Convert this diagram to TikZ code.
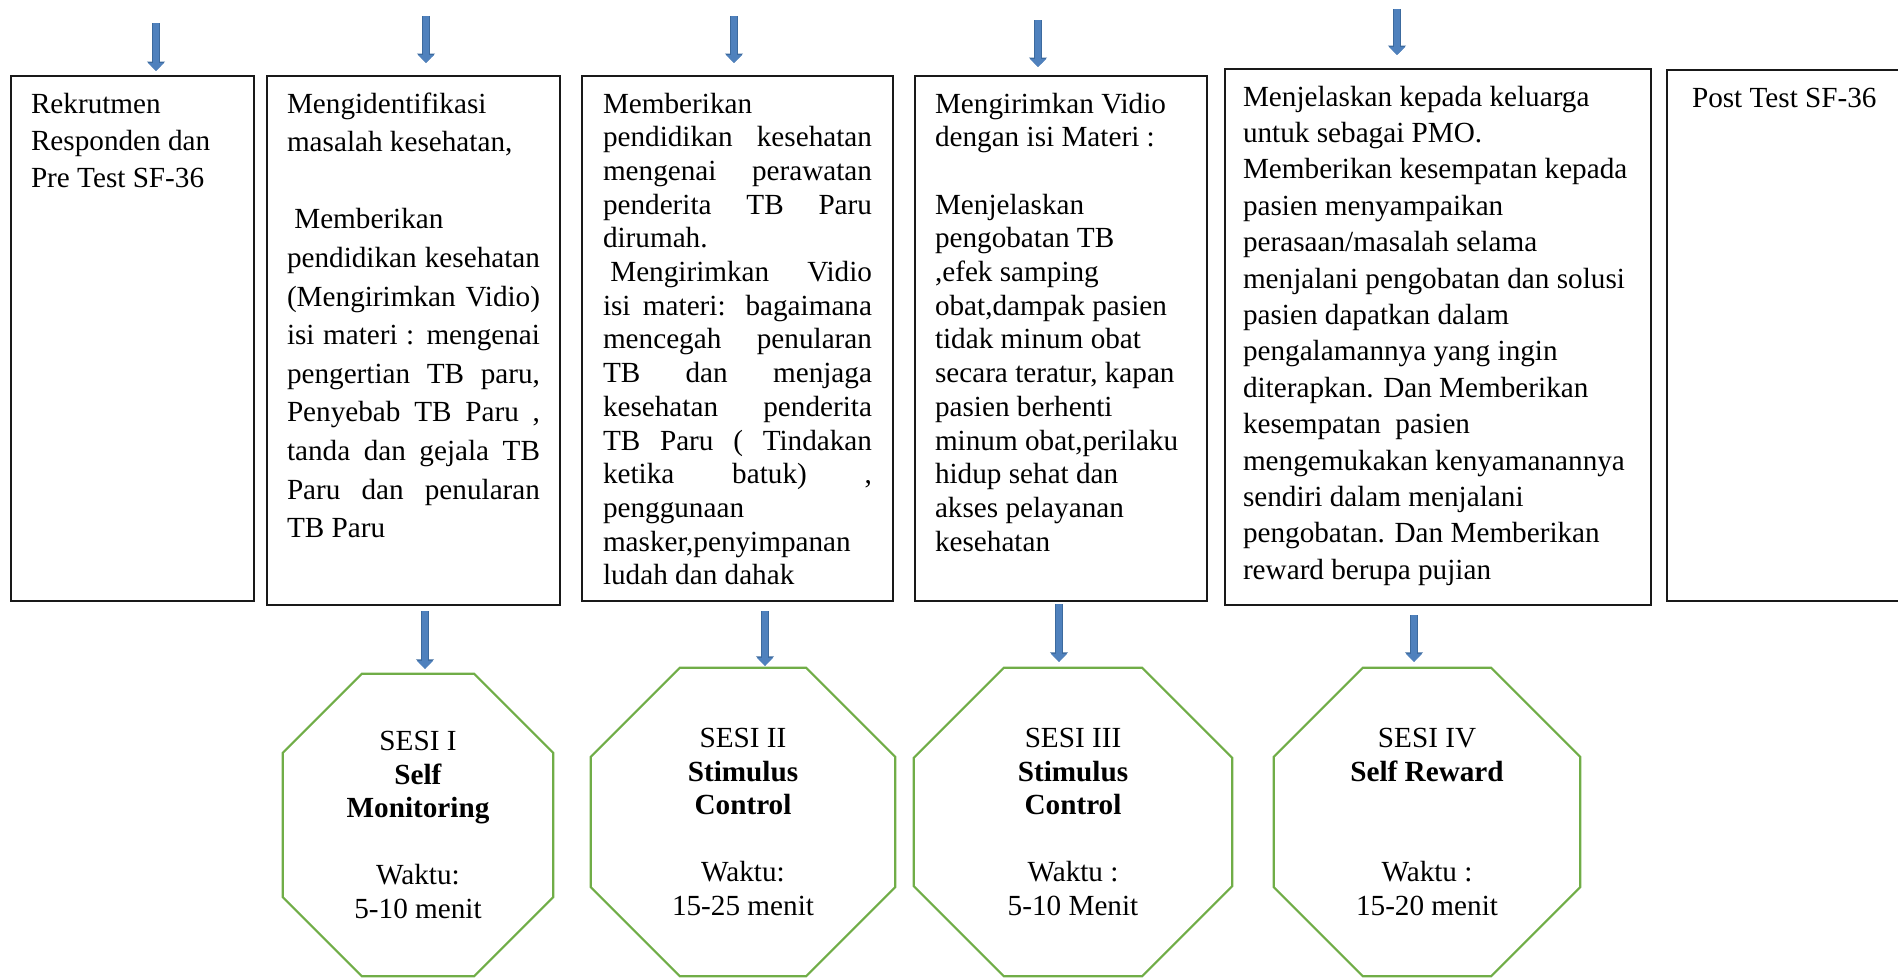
\documentclass[tikz,border=0pt]{standalone}
\usepackage{fontspec}
\setmainfont{Liberation Serif}
\usetikzlibrary{arrows.meta,positioning}
\definecolor{arrowblue}{HTML}{4F81BD}
\definecolor{arrowedge}{HTML}{3C6A9E}
\definecolor{sesigreen}{HTML}{70AD47}
\newcommand{\jline}[1]{\makebox[\linewidth][s]{\spaceskip=0pt\xspaceskip=0pt #1}}

\begin{document}
\begin{tikzpicture}[
    x=1pt, y=-1pt,
    stepbox/.style={
      draw=black!90,
      line width=1.2pt,
      anchor=north west,
      align=left,
      inner xsep=20pt,
      inner ysep=0pt,
      outer sep=0pt,
      text height=37pt,
      font=\fontsize{29.2}{33.7}\selectfont,
      execute at begin node={\spaceskip=0pt\xspaceskip=0pt\relax}
    },
    sesibox/.style={
      align=center,
      inner sep=0pt,
      font=\fontsize{29.2}{33.5}\selectfont,
      execute at begin node={\spaceskip=0pt\xspaceskip=0pt\relax}
    },
    sesiline/.style={draw=sesigreen, line width=2.2pt},
    blockarrow/.style={
      draw=arrowblue, line width=6.5pt,
      -{Triangle[length=8pt, width=15.5pt]},
      preaction={draw=arrowedge, line width=8pt, -{Triangle[length=9.5pt, width=17.5pt]}}
    }
  ]
  \useasboundingbox (0,0) rectangle (1898,978);

  % langkah
  \node[stepbox, text width=203pt, minimum width=243pt, text depth=488pt,
    font=\fontsize{29.2}{37}\selectfont] (rekrut) at (11,76)
    {Rekrutmen\\Responden dan\\Pre Test SF-36};
  \node[stepbox, text width=253pt, minimum width=293pt, text depth=492pt,
    font=\fontsize{29.2}{38.6}\selectfont] (identifikasi) at (267,76)
    {Mengidentifikasi\\
     masalah kesehatan,\\
     \mbox{}\\
     \hspace*{.25em}Memberikan\\
     \jline{pendidikan kesehatan}\\
     \jline{(Mengirimkan Vidio)}\\
     \jline{isi materi : mengenai}\\
     \jline{pengertian TB paru,}\\
     \jline{Penyebab TB Paru ,}\\
     \jline{tanda dan gejala TB}\\
     \jline{Paru dan penularan}\\
     TB Paru};
  \node[stepbox, text width=269pt, minimum width=311pt, text depth=488pt] (edukasi) at (582,76)
    {Memberikan\\
     \jline{pendidikan kesehatan}\\
     \jline{mengenai perawatan}\\
     \jline{penderita TB Paru}\\
     dirumah.\\
     \jline{\hspace{.25em}Mengirimkan Vidio}\\
     \jline{isi materi: bagaimana}\\
     \jline{mencegah penularan}\\
     \jline{TB dan menjaga}\\
     \jline{kesehatan penderita}\\
     \jline{TB Paru ( Tindakan}\\
     \jline{ketika batuk) ,}\\
     penggunaan\\
     masker,penyimpanan\\
     ludah dan dahak};
  \node[stepbox, text width=252pt, minimum width=292pt, text depth=488pt] (video) at (915,76)
    {Mengirimkan Vidio\\
     dengan isi Materi :\\
     \mbox{}\\
     Menjelaskan\\
     pengobatan TB\\
     ,efek samping\\
     obat,dampak pasien\\
     tidak minum obat\\
     secara teratur, kapan\\
     pasien berhenti\\
     minum obat,perilaku\\
     hidup sehat dan\\
     akses pelayanan\\
     kesehatan};
  \node[stepbox, text width=390pt, minimum width=426pt, inner xsep=18pt, text depth=499pt,
    font=\fontsize{29.2}{36.4}\selectfont] (keluarga) at (1225,69)
    {Menjelaskan kepada keluarga\\
     untuk sebagai PMO.\\
     Memberikan kesempatan kepada\\
     pasien menyampaikan\\
     perasaan/masalah selama\\
     menjalani pengobatan dan solusi\\
     pasien dapatkan dalam\\
     pengalamannya yang ingin\\
     diterapkan. Dan Memberikan\\
     kesempatan\ \ pasien\\
     mengemukakan kenyamanannya\\
     sendiri dalam menjalani\\
     pengobatan. Dan Memberikan\\
     reward berupa pujian};
  \node[stepbox, text width=200pt, minimum width=250pt, text depth=494pt] (posttest) at (1667,70)
    {Post Test SF-36};

  % sesi
  \node[sesibox, minimum width=270pt, minimum height=302pt] (sesi1) at (418,825)
    {SESI I\\\textbf{Self}\\\textbf{Monitoring}\\\mbox{}\\Waktu:\\5-10 menit};
  \node[sesibox, minimum width=304pt, minimum height=308pt] (sesi2) at (743,822)
    {SESI II\\\textbf{Stimulus}\\\textbf{Control}\\\mbox{}\\Waktu:\\15-25 menit};
  \node[sesibox, minimum width=318pt, minimum height=308pt] (sesi3) at (1073,822)
    {SESI III\\\textbf{Stimulus}\\\textbf{Control}\\\mbox{}\\Waktu :\\5-10 Menit};
  \node[sesibox, minimum width=306pt, minimum height=308pt] (sesi4) at (1427,822)
    {SESI IV\\\textbf{Self Reward}\\\mbox{}\\\mbox{}\\Waktu :\\15-20 menit};
  \foreach \s/\c in {sesi1/79, sesi2/89, sesi3/90, sesi4/89}
    \draw[sesiline] ([xshift=\c pt]\s.north west) -- ([xshift=-\c pt]\s.north east)
      -- ([yshift=-\c pt]\s.north east) -- ([yshift=\c pt]\s.south east)
      -- ([xshift=-\c pt]\s.south east) -- ([xshift=\c pt]\s.south west)
      -- ([yshift=\c pt]\s.south west) -- ([yshift=-\c pt]\s.north west) -- cycle;

  % panah
  \coordinate (t1) at (156,23);
  \coordinate (t2) at (426,16);
  \coordinate (t3) at (734,16);
  \coordinate (t4) at (1038,20);
  \coordinate (t5) at (1397,9);
  \draw[blockarrow, shorten >=5pt] (t1) -- (t1 |- rekrut.north);
  \draw[blockarrow, shorten >=13pt] (t2) -- (t2 |- identifikasi.north);
  \draw[blockarrow, shorten >=13pt] (t3) -- (t3 |- edukasi.north);
  \draw[blockarrow, shorten >=9pt] (t4) -- (t4 |- video.north);
  \draw[blockarrow, shorten >=14pt] (t5) -- (t5 |- keluarga.north);

  \coordinate (u1) at (425,611);
  \coordinate (u2) at (765,611);
  \coordinate (u3) at (1059,604);
  \coordinate (u4) at (1414,615);
  \draw[blockarrow, shorten >=5pt] (u1) -- (u1 |- sesi1.north);
  \draw[blockarrow, shorten >=2pt] (u2) -- (u2 |- sesi2.north);
  \draw[blockarrow, shorten >=6pt] (u3) -- (u3 |- sesi3.north);
  \draw[blockarrow, shorten >=6pt] (u4) -- (u4 |- sesi4.north);
\end{tikzpicture}
\end{document}
